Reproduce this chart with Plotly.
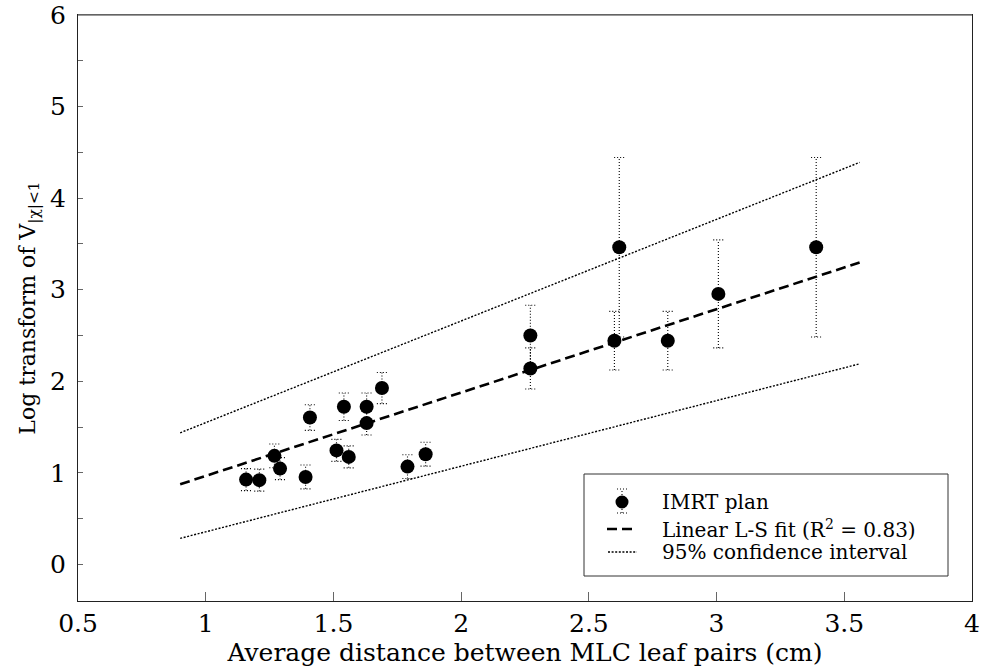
import plotly.graph_objects as go

# Measured plans: average MLC leaf-pair distance (cm) vs. log-transformed V_|chi|<1
leaf_distance = [1.158, 1.210, 1.269, 1.291, 1.391, 1.408, 1.512, 1.541, 1.560, 1.630, 1.630,
                 1.690, 1.790, 1.861, 2.271, 2.271, 2.600, 2.619, 2.809, 3.007, 3.390]
log_v = [0.926, 0.920, 1.185, 1.046, 0.955, 1.604, 1.245, 1.721, 1.174, 1.721, 1.543,
         1.926, 1.068, 1.203, 2.500, 2.140, 2.443, 3.464, 2.443, 2.954, 3.464]
log_v_err = [0.12, 0.12, 0.13, 0.12, 0.13, 0.14, 0.12, 0.15, 0.12, 0.15, 0.13,
             0.17, 0.13, 0.13, 0.33, 0.225, 0.32, 0.98, 0.32, 0.59, 0.98]

# Least-squares fit and 95% confidence band (end points)
fit_x = [0.9, 3.56]
fit_y = [0.875, 3.297]
ci_upper_y = [1.437, 4.39]
ci_lower_y = [0.284, 2.19]

x_ticks = [0.5, 1, 1.5, 2, 2.5, 3, 3.5, 4]
y_ticks = [0, 1, 2, 3, 4, 5, 6]

FONT = "DejaVu Serif"
W, H = 981, 671
L, R, T, B = 78, 9, 15, 70
CAP = 0.02  # half width of the error-bar caps, x units

# Error bars as dotted segments (stem + two caps per point)
stem_x, stem_y, cap_x, cap_y = [], [], [], []
for xi, yi, ei in zip(leaf_distance, log_v, log_v_err):
    stem_x += [xi, xi, None]
    stem_y += [yi - ei, yi + ei, None]
    for yc in (yi - ei, yi + ei):
        cap_x += [xi - CAP, xi + CAP, None]
        cap_y += [yc, yc, None]

fig = go.Figure()
dot = dict(color="black", width=1.1, dash="1px,2px")
fig.add_trace(go.Scatter(x=stem_x, y=stem_y, mode="lines", line=dot, showlegend=False, hoverinfo="skip"))
fig.add_trace(go.Scatter(x=cap_x, y=cap_y, mode="lines", line=dot, showlegend=False, hoverinfo="skip"))

band = dict(color="black", width=1.4, dash="2px,1.6px")
fig.add_trace(go.Scatter(x=fit_x, y=ci_upper_y, mode="lines", line=band, showlegend=False))
fig.add_trace(go.Scatter(x=fit_x, y=ci_lower_y, mode="lines", line=band, showlegend=False))
fig.add_trace(go.Scatter(x=fit_x, y=fit_y, mode="lines",
                         line=dict(color="black", width=2.6, dash="10px,5px"), showlegend=False))
fig.add_trace(go.Scatter(x=leaf_distance, y=log_v, mode="markers",
                         marker=dict(color="black", size=14), showlegend=False))


def px(p):
    return (p - L) / (W - L - R)


def py(p):
    return (H - B - p) / (H - T - B)


# Legend box drawn in paper space
shapes = [dict(type="rect", xref="paper", yref="paper", x0=px(584), x1=px(948), y0=py(576), y1=py(474),
               line=dict(color="#333", width=1), fillcolor="white", layer="above")]
lx = 622
shapes.append(dict(type="circle", xref="paper", yref="paper", xsizemode="pixel", ysizemode="pixel",
                   xanchor=px(lx), yanchor=py(502), x0=-6.5, x1=6.5, y0=-6.5, y1=6.5,
                   fillcolor="black", line=dict(width=0), layer="above"))
for yc in (489, 513):
    shapes.append(dict(type="line", xref="paper", yref="paper", x0=px(lx - 5), x1=px(lx + 5),
                       y0=py(yc), y1=py(yc), line=dict(color="black", width=1.1, dash="1px,2px"),
                       layer="above"))
shapes.append(dict(type="line", xref="paper", yref="paper", x0=px(lx), x1=px(lx),
                   y0=py(513), y1=py(489), line=dict(color="black", width=1.1, dash="1px,2px"), layer="above"))
shapes.append(dict(type="line", xref="paper", yref="paper", x0=px(607), x1=px(636), y0=py(529), y1=py(529),
                   line=dict(color="black", width=2.6, dash="10px,5px"), layer="above"))
shapes.append(dict(type="line", xref="paper", yref="paper", x0=px(608), x1=px(637), y0=py(552), y1=py(552),
                   line=dict(color="black", width=1.4, dash="2px,1.6px"), layer="above"))
# lighter top frame edge
shapes.append(dict(type="line", xref="paper", yref="paper", x0=0, x1=1, y0=1, y1=1,
                   line=dict(color="#7a7a7a", width=1.6), layer="above"))

legend_text = ["IMRT plan", "Linear L-S fit (R<sup>2</sup> = 0.83)", "95% confidence interval"]
legend_rows = [502, 529, 552]
annotations = [dict(text=t, xref="paper", yref="paper", x=px(660), y=py(r), xanchor="left", yanchor="middle",
                    showarrow=False, font=dict(family=FONT, size=20, color="black"))
               for t, r in zip(legend_text, legend_rows)]

axis_common = dict(showline=True, linecolor="#222", linewidth=1.2, mirror=True, showgrid=False,
                   zeroline=False, ticks="inside", tickcolor="#666",
                   tickfont=dict(family=FONT, size=25, color="black"))

fig.update_layout(
    width=W, height=H, margin=dict(l=L, r=R, t=T, b=B, autoexpand=False),
    plot_bgcolor="white", paper_bgcolor="white",
    xaxis=dict(range=[0.5, 4], tickvals=x_ticks, ticklen=9,
               title=dict(text="Average distance between MLC leaf pairs (cm)",
                          font=dict(family=FONT, size=25, color="black"), standoff=6),
               **axis_common),
    yaxis=dict(range=[-0.4, 6], tickvals=y_ticks, ticklen=5, ticklabelstandoff=6,
               minor=dict(dtick=0.5, ticks="inside", ticklen=5, tickcolor="#666"),
               title=dict(text="Log transform of V<sub>|χ|&lt;1</sub>",
                          font=dict(family=FONT, size=22, color="black"), standoff=8),
               **axis_common),
    shapes=shapes, annotations=annotations, showlegend=False,
)

fig.write_html("out.html")
